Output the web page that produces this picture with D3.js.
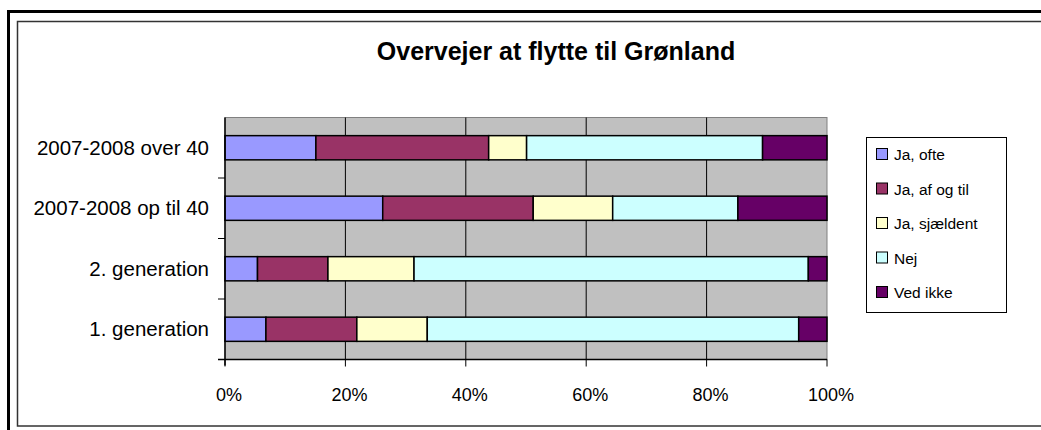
<!DOCTYPE html>
<html>
<head>
<meta charset="utf-8">
<script src="https://cdn.jsdelivr.net/npm/d3@7"></script>
<style>
  body { margin: 0; background: #fff; }
  text { font-family: Arial, "Liberation Sans", sans-serif; }
</style>
</head>
<body>
<div id="chart"></div>
<script>
// Data
const categories = ["2007-2008 over 40", "2007-2008 op til 40", "2. generation", "1. generation"];
const seriesNames = ["Ja, ofte", "Ja, af og til", "Ja, sjældent", "Nej", "Ved ikke"];
const jaOfte     = [15.1, 26.2, 5.4, 6.8];
const jaAfOgTil  = [28.7, 25.0, 11.7, 15.1];
const jaSjaeldent = [6.3, 13.2, 14.3, 11.7];
const nej        = [39.2, 20.8, 65.5, 61.7];
const vedIkke    = [10.7, 14.8, 3.1, 4.7];
const colors = ["#9999FF", "#993366", "#FFFFCC", "#CCFFFF", "#660066"];
const xTicks = [0, 20, 40, 60, 80, 100];

const width = 1041, height = 430;
const plot = { left: 225, right: 827, top: 117.5, bottom: 359.5 };

const svg = d3.select("#chart")
  .append("svg")
    .attr("width", width)
    .attr("height", height);

// frames
svg.append("rect")
  .attr("x", 8.5).attr("y", 11.5)
  .attr("width", 1100).attr("height", 500)
  .attr("fill", "none").attr("stroke", "#000").attr("stroke-width", 3);
svg.append("rect")
  .attr("x", 17.5).attr("y", 21.5)
  .attr("width", 1100).attr("height", 404.5)
  .attr("fill", "none").attr("stroke", "#333").attr("stroke-width", 1.5);

svg.append("text")
  .attr("x", 556).attr("y", 60)
  .attr("text-anchor", "middle")
  .style("font-weight", "bold").style("font-size", "25px")
  .text("Overvejer at flytte til Grønland");

const x = d3.scaleLinear().domain([0, 100]).range([plot.left, plot.right]);
const y = d3.scaleBand().domain(categories).range([plot.top, plot.bottom]).paddingInner(0.6).paddingOuter(0.3);
const yBand = d3.scaleBand().domain(categories).range([plot.top, plot.bottom]);

// plot area
svg.append("rect")
  .attr("x", plot.left).attr("y", plot.top)
  .attr("width", plot.right - plot.left).attr("height", plot.bottom - plot.top)
  .attr("fill", "#C0C0C0").attr("stroke", "#808080").attr("stroke-width", 1);

// gridlines
svg.append("g")
  .selectAll("line")
  .data(xTicks.slice(1, -1))
  .join("line")
    .attr("x1", d => x(d)).attr("x2", d => x(d))
    .attr("y1", plot.top).attr("y2", plot.bottom)
    .attr("stroke", "#000").attr("stroke-width", 1);

// stacked bars
const rows = categories.map((c, i) => ({
  cat: c,
  vals: [jaOfte[i], jaAfOgTil[i], jaSjaeldent[i], nej[i], vedIkke[i]]
}));
const segs = [];
rows.forEach(r => {
  let acc = 0;
  r.vals.forEach((v, k) => {
    segs.push({ cat: r.cat, k, x0: acc, x1: acc + v });
    acc += v;
  });
});

svg.append("g")
  .selectAll("rect")
  .data(segs)
  .join("rect")
    .attr("x", d => x(d.x0))
    .attr("y", d => y(d.cat))
    .attr("width", d => x(d.x1) - x(d.x0))
    .attr("height", y.bandwidth())
    .attr("fill", d => colors[d.k])
    .attr("stroke", "#000")
    .attr("stroke-width", 1.5);

// axes
svg.append("line")
  .attr("x1", plot.left).attr("x2", plot.left)
  .attr("y1", plot.top).attr("y2", plot.bottom + 6)
  .attr("stroke", "#000").attr("stroke-width", 1.5);
svg.append("line")
  .attr("x1", plot.left - 7).attr("x2", plot.right)
  .attr("y1", plot.bottom).attr("y2", plot.bottom)
  .attr("stroke", "#000").attr("stroke-width", 1.5);

// y ticks at band boundaries
svg.append("g")
  .selectAll("line")
  .data(categories.slice(1))
  .join("line")
    .attr("x1", plot.left - 7).attr("x2", plot.left)
    .attr("y1", d => yBand(d)).attr("y2", d => yBand(d))
    .attr("stroke", "#000").attr("stroke-width", 1);

svg.append("g")
  .selectAll("text")
  .data(categories)
  .join("text")
    .attr("x", 209)
    .attr("y", d => yBand(d) + yBand.bandwidth() / 2 + 7)
    .attr("text-anchor", "end")
    .style("font-size", "20.5px")
    .text(d => d);

// x ticks
svg.append("g")
  .selectAll("line")
  .data(xTicks)
  .join("line")
    .attr("x1", d => x(d)).attr("x2", d => x(d))
    .attr("y1", plot.bottom).attr("y2", plot.bottom + 7)
    .attr("stroke", "#000").attr("stroke-width", 1);

svg.append("g")
  .selectAll("text")
  .data(xTicks)
  .join("text")
    .attr("x", d => x(d) + 4)
    .attr("y", 401)
    .attr("text-anchor", "middle")
    .style("font-size", "18px")
    .text(d => d + "%");

// legend
const lg = svg.append("g");
lg.append("rect")
  .attr("x", 866.5).attr("y", 137.5)
  .attr("width", 140).attr("height", 175)
  .attr("fill", "#fff").attr("stroke", "#000").attr("stroke-width", 1);
const item = lg.selectAll("g.item")
  .data(seriesNames)
  .join("g")
    .attr("class", "item")
    .attr("transform", (d, i) => `translate(876,${154 + i * 34.5})`);
item.append("rect")
  .attr("x", 0.5).attr("y", -5.5)
  .attr("width", 11).attr("height", 11)
  .attr("fill", (d, i) => colors[i])
  .attr("stroke", "#000").attr("stroke-width", 1);
item.append("text")
  .attr("x", 18).attr("y", 6)
  .style("font-size", "15.5px")
  .text(d => d);
</script>
</body>
</html>
